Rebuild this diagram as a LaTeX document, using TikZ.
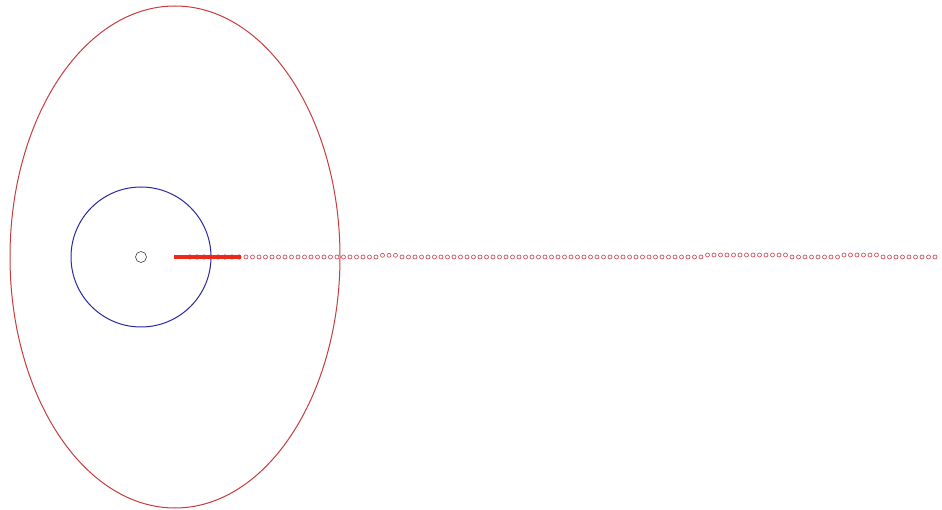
\documentclass[tikz,border=0pt]{standalone}
\usetikzlibrary{shapes.geometric}
\definecolor{orbitred}{RGB}{200,60,60}
\definecolor{orbitblue}{RGB}{40,40,160}
\definecolor{dotred}{RGB}{205,85,100}
\definecolor{jetred}{RGB}{235,40,25}
\tikzset{
  orbit/.style={draw=orbitred, line width=1pt},
  planet/.style={draw=orbitblue, line width=1pt},
  mdot/.style={circle, draw=dotred, line width=0.7pt, inner sep=0pt, minimum size=4pt},
  jdot/.style={circle, fill=jetred, inner sep=0pt, minimum size=5pt},
}
\begin{document}
\begin{tikzpicture}[x=1pt,y=-1pt]
\useasboundingbox[fill=white] (0,0) rectangle (942,510);
\node[ellipse, orbit, minimum width=330pt, minimum height=502pt, inner sep=0pt] (big) at (175,257) {};
\node[circle, planet, minimum size=140pt, inner sep=0pt] (blue) at (141,257) {};
\node[circle, draw=black!75, line width=0.6pt, minimum size=11pt, inner sep=0pt] (center) at (141,257) {};
\coordinate (js) at (174,257);
\coordinate (je) at (240,257);
\draw[jetred, line width=3.5pt] (js) -- (je);
\foreach \x in {190,197,...,240} \node[jdot] at (\x,257) {};
\foreach \i in {0,...,106} {
  \pgfmathsetmacro{\xx}{246+6.5*\i}
  \pgfmathsetmacro{\yy}{257-1.7*and(\xx>378,\xx<401)-2*and(\xx>703,\xx<791)-2*and(\xx>843,\xx<879)}
  \node[mdot] (m\i) at (\xx,\yy) {};
}
\end{tikzpicture}
\end{document}
